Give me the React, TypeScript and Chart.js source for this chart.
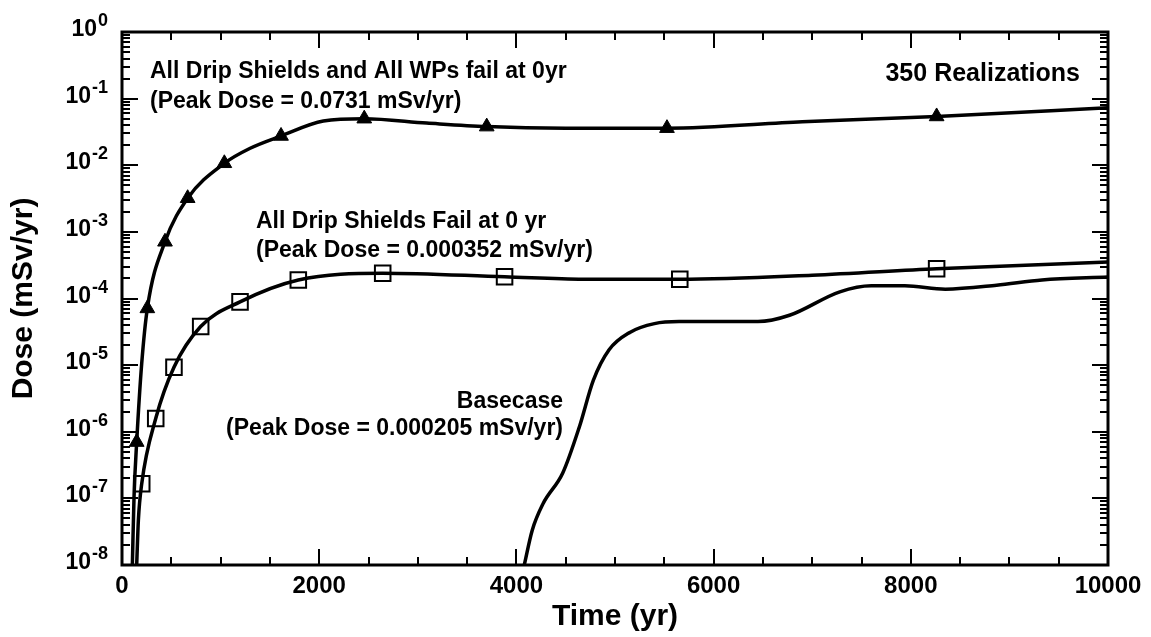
import React, { useEffect, useRef } from 'react';
import { Chart, registerables } from 'chart.js';

Chart.register(...registerables);

const FONT = '"Liberation Sans", Arial, Helvetica, sans-serif';

// ---- Data ----
// All Drip Shields and All WPs fail at 0 yr (line)
const allFailTimes = [105, 122, 149, 200, 257, 436, 666, 1038, 1300, 1613, 2042, 2457, 3090, 3699, 4500, 5527, 6900, 8262, 10000];
const allFailDose = [1e-8, 1.05e-7, 7e-7, 1.06e-5, 7.1e-5, 7.1e-4, 3.2e-3, 1.07e-2, 1.8e-2, 2.75e-2, 4.6e-2, 5.0e-2, 4.3e-2, 3.8e-2, 3.6e-2, 3.6e-2, 4.5e-2, 5.4e-2, 7.31e-2];
// triangle markers
const allFailMarkTimes = [149, 257, 436, 666, 1038, 1613, 2457, 3699, 5527, 8262];
const allFailMarkDose = [7e-7, 7.1e-5, 7.1e-4, 3.2e-3, 1.07e-2, 2.75e-2, 5.0e-2, 3.8e-2, 3.6e-2, 5.4e-2];

// All Drip Shields Fail at 0 yr (line)
const dsFailTimes = [149, 166, 200, 342, 527, 798, 1197, 1788, 2644, 3880, 4680, 5657, 7000, 8262, 10000];
const dsFailDose = [1e-8, 4.7e-8, 1.66e-7, 1.58e-6, 9.3e-6, 3.8e-5, 8.9e-5, 1.9e-4, 2.4e-4, 2.12e-4, 1.95e-4, 1.95e-4, 2.24e-4, 2.8e-4, 3.52e-4];
// square markers
const dsFailMarkTimes = [200, 342, 527, 798, 1197, 1788, 2644, 3880, 5657, 8262];
const dsFailMarkDose = [1.66e-7, 1.58e-6, 9.3e-6, 3.8e-5, 8.9e-5, 1.9e-4, 2.4e-4, 2.12e-4, 1.95e-4, 2.8e-4];

// Basecase
const baseTimes = [4080, 4160, 4270, 4470, 4640, 4780, 4940, 5150, 5400, 5650, 6450, 6770, 7280, 7600, 7940, 8350, 8870, 9330, 10000];
const baseDose = [1e-8, 3.3e-8, 8.3e-8, 2.4e-7, 1.2e-6, 5.9e-6, 1.7e-5, 3.1e-5, 4.2e-5, 4.5e-5, 4.5e-5, 5.6e-5, 1.26e-4, 1.55e-4, 1.55e-4, 1.38e-4, 1.58e-4, 1.9e-4, 2.1e-4];

// Axes
const X_MIN = 0;
const X_MAX = 10000;
const X_LABEL_STEP = 2000;
const X_MINOR_STEP = 500;
const Y_MIN_EXP = -8;
const Y_MAX_EXP = 0;

const xTitle = 'Time (yr)';
const yTitle = 'Dose (mSv/yr)';

const annotations = [
  { text: 'All Drip Shields and All WPs fail at 0yr', x: 150, y: 78, align: 'left', size: 23 },
  { text: '(Peak Dose = 0.0731 mSv/yr)', x: 150, y: 108, align: 'left', size: 23 },
  { text: '350 Realizations', x: 1080, y: 81, align: 'right', size: 25 },
  { text: 'All Drip Shields Fail at 0 yr', x: 256, y: 228, align: 'left', size: 23 },
  { text: '(Peak Dose = 0.000352 mSv/yr)', x: 256, y: 257, align: 'left', size: 23 },
  { text: 'Basecase', x: 563, y: 408, align: 'right', size: 23 },
  { text: '(Peak Dose = 0.000205 mSv/yr)', x: 563, y: 435, align: 'right', size: 23 },
];

const toPts = (xs: number[], ys: number[]) => xs.map((x, i) => ({ x, y: ys[i] }));

const decorPlugin = {
  id: 'decor',
  afterDraw(chart: any) {
    const { ctx, chartArea: a, scales } = chart;
    const xs = scales.x;
    const ys = scales.y;
    ctx.save();
    ctx.strokeStyle = '#000';
    ctx.fillStyle = '#000';
    ctx.lineCap = 'butt';

    const seg = (x1: number, y1: number, x2: number, y2: number) => {
      ctx.beginPath();
      ctx.moveTo(x1, y1);
      ctx.lineTo(x2, y2);
      ctx.stroke();
    };

    // x ticks (inward, top and bottom)
    ctx.lineWidth = 2;
    for (let t = X_MIN; t <= X_MAX; t += X_MINOR_STEP) {
      const px = Math.round(xs.getPixelForValue(t));
      const len = t % X_LABEL_STEP === 0 ? 16 : 8;
      seg(px, a.bottom, px, a.bottom - len);
      seg(px, a.top, px, a.top + len);
    }
    // y ticks (inward, left and right)
    for (let e = Y_MIN_EXP; e <= Y_MAX_EXP; e++) {
      for (let m = 1; m <= 9; m++) {
        if (e === Y_MAX_EXP && m > 1) break;
        const py = Math.round(ys.getPixelForValue(m * Math.pow(10, e)));
        const len = m === 1 ? 16 : 8;
        seg(a.left, py, a.left + len, py);
        seg(a.right, py, a.right - len, py);
      }
    }
    // frame
    ctx.lineWidth = 3;
    ctx.strokeRect(a.left, a.top, a.right - a.left, a.bottom - a.top);

    // y tick labels 10^n
    ctx.textBaseline = 'alphabetic';
    ctx.textAlign = 'right';
    for (let e = Y_MAX_EXP; e >= Y_MIN_EXP; e--) {
      const py = ys.getPixelForValue(Math.pow(10, e));
      const sup = e === 0 ? '0' : '-' + String(-e);
      const right = a.left - 14;
      ctx.font = `bold 18px ${FONT}`;
      ctx.fillText(sup, right, py - 6);
      const sw = ctx.measureText(sup).width;
      ctx.font = `bold 23px ${FONT}`;
      ctx.fillText('10', right - sw - 1, py + 4);
    }

    // axis titles
    ctx.textAlign = 'center';
    ctx.textBaseline = 'middle';
    ctx.font = `bold 30px ${FONT}`;
    ctx.fillText(xTitle, (a.left + a.right) / 2, 617);
    ctx.save();
    ctx.translate(24, (a.top + a.bottom) / 2);
    ctx.rotate(-Math.PI / 2);
    ctx.font = `bold 30px ${FONT}`;
    ctx.fillText(yTitle, 0, 0);
    ctx.restore();

    // annotations
    ctx.textBaseline = 'alphabetic';
    for (const an of annotations) {
      ctx.font = `bold ${an.size}px ${FONT}`;
      ctx.textAlign = an.align;
      ctx.fillText(an.text, an.x, an.y);
    }
    ctx.restore();
  },
};

export default function App() {
  const ref = useRef<HTMLCanvasElement | null>(null);

  useEffect(() => {
    if (!ref.current) return;
    const lineBase = {
      type: 'line' as const,
      borderColor: '#000',
      borderWidth: 3.5,
      pointRadius: 0,
      fill: false,
      cubicInterpolationMode: 'monotone' as const,
    };
    const chart = new Chart(ref.current, {
      type: 'line',
      data: {
        datasets: [
          { ...lineBase, label: 'All Drip Shields and All WPs fail at 0yr', data: toPts(allFailTimes, allFailDose) },
          { ...lineBase, label: 'All Drip Shields Fail at 0 yr', data: toPts(dsFailTimes, dsFailDose) },
          { ...lineBase, label: 'Basecase', data: toPts(baseTimes, baseDose) },
          {
            type: 'scatter',
            label: 'All Drip Shields and All WPs fail (markers)',
            data: toPts(allFailMarkTimes, allFailMarkDose),
            showLine: false,
            pointStyle: 'triangle',
            pointRadius: 8.5,
            backgroundColor: '#000',
            borderColor: '#000',
            borderWidth: 1,
          },
          {
            type: 'scatter',
            label: 'All Drip Shields Fail (markers)',
            data: toPts(dsFailMarkTimes, dsFailMarkDose),
            showLine: false,
            pointStyle: 'rect',
            pointRadius: 11,
            backgroundColor: 'rgba(0,0,0,0)',
            borderColor: '#000',
            borderWidth: 2,
          },
        ] as any,
      },
      options: {
        animation: false,
        responsive: false,
        devicePixelRatio: 1,
        layout: { padding: { left: 0, top: 32, right: 43, bottom: 0 } },
        plugins: { legend: { display: false }, tooltip: { enabled: false } },
        scales: {
          x: {
            type: 'linear',
            min: X_MIN,
            max: X_MAX,
            grid: { display: false, drawTicks: false },
            border: { display: false },
            ticks: {
              stepSize: X_LABEL_STEP,
              color: '#000',
              padding: 7,
              maxRotation: 0,
              autoSkip: false,
              font: { family: FONT, size: 24, weight: 'bold' },
              callback: (v: any) => String(v),
            },
            afterFit: (s: any) => {
              s.height = 72;
            },
          },
          y: {
            type: 'logarithmic',
            min: Math.pow(10, Y_MIN_EXP),
            max: Math.pow(10, Y_MAX_EXP),
            grid: { display: false, drawTicks: false },
            border: { display: false },
            ticks: { display: false },
            afterFit: (s: any) => {
              s.width = 122;
            },
          },
        },
      } as any,
      plugins: [decorPlugin],
    });
    return () => chart.destroy();
  }, []);

  return (
    <div style={{ position: 'absolute', left: 0, top: 0, width: 1151, height: 637, background: '#fff' }}>
      <canvas ref={ref} width={1151} height={637} style={{ display: 'block', width: 1151, height: 637 }} />
    </div>
  );
}
